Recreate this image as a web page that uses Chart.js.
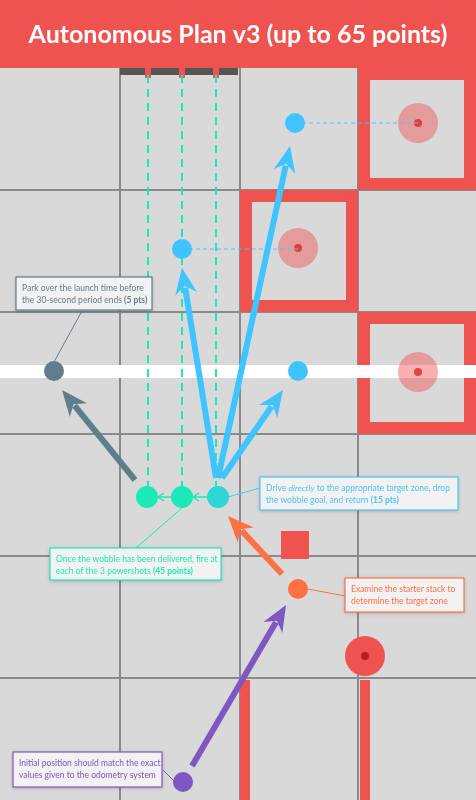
<!DOCTYPE html>
<html><head><meta charset="utf-8">
<script src="https://cdn.jsdelivr.net/npm/chart.js@4"></script>
<style>html,body{margin:0;padding:0;background:#d9d9d9;overflow:hidden}#wrap{width:476px;height:800px}</style>
</head><body><div id="wrap"><canvas id="c"></canvas></div>
<script>
const title = "Autonomous Plan v3 (up to 65 points)";
const gridX = [120, 240, 358];
const gridY = [190, 312, 434, 556, 678];
const zones = [[358,68,476,190],[240,190,358,312],[358,312,476,434]];
const zoneCircles = [[418,123],[298,248],[418,372]];
const powerLinesX = [148, 182, 216];
const bluePts = [{x:295,y:123},{x:182,y:249},{x:298,y:371}];
const greenPts = [{x:147,y:497},{x:182,y:497},{x:218,y:497}];
const parkPt = [{x:54,y:371}];
const stackPt = [{x:298,y:589}];
const startPt = [{x:183,y:782}];
const arrows = [
 {c:'#40c4ff',f:[218,478],t:[290,146]},
 {c:'#40c4ff',f:[216,478],t:[182,268]},
 {c:'#40c4ff',f:[222,478],t:[283,390]},
 {c:'#607d8b',f:[135,480],t:[62,390]},
 {c:'#ff7043',f:[282,574],t:[228,516]},
 {c:'#7e57c2',f:[192,766],t:[286,605]}
];
const callouts = [
 {box:[16,277,152,310],col:'#607d8b',line:[82,311,54,362],lines:[["Park over the launch time before",""],["the 30-second period ends ","(5 pts)"]]},
 {box:[260,477,458,510],col:'#4fc3f7',line:[260,488,228,497],lines:[["Drive directly to the appropriate target zone, drop",""],["the wobble goal, and return ","(15 pts)"]]},
 {box:[50,548,221,580],col:'#1de9b6',line:[136,548,182,508],lines:[["Once the wobble has been delivered, fire at",""],["each of the 3 powershots ","(45 points)"]]},
 {box:[345,578,464,612],col:'#ff7043',line:[345,596,308,589],lines:[["Examine the starter stack to",""],["determine the target zone",""]]},
 {box:[13,752,162,787],col:'#7e57c2',line:[163,770,175,782],lines:[["Initial position should match the exact",""],["values given to the odometry system",""]]}
];
const RED='#ef5350';
const FF='Lato, "Open Sans", sans-serif';
const field = {
 id:'field',
 beforeDatasetsDraw(ch){
  const c=ch.ctx, X=v=>ch.scales.x.getPixelForValue(v), Y=v=>ch.scales.y.getPixelForValue(v);
  c.save();
  c.fillStyle='#d9d9d9'; c.fillRect(X(0),Y(68),X(476)-X(0),Y(800)-Y(68));
  c.strokeStyle='#8a8a8a'; c.lineWidth=2;
  gridX.forEach(g=>{c.beginPath();c.moveTo(X(g),Y(68));c.lineTo(X(g),Y(800));c.stroke();});
  gridY.forEach(g=>{c.beginPath();c.moveTo(X(0),Y(g));c.lineTo(X(476),Y(g));c.stroke();});
  zones.forEach(z=>{c.fillStyle=RED;c.fillRect(X(z[0]),Y(z[1]),X(z[2])-X(z[0]),Y(z[3])-Y(z[1]));
    c.fillStyle='#d9d9d9';c.fillRect(X(z[0]+12),Y(z[1]+12),X(z[2]-12)-X(z[0]+12),Y(z[3]-12)-Y(z[1]+12));});
  c.fillStyle='#fff'; c.fillRect(X(0),Y(365),X(476)-X(0),Y(378)-Y(365));
  zoneCircles.forEach(p=>{c.fillStyle='rgba(239,83,80,0.45)';c.beginPath();c.arc(X(p[0]),Y(p[1]),20,0,7);c.fill();
   c.fillStyle='rgba(220,40,40,0.8)';c.beginPath();c.arc(X(p[0]),Y(p[1]),4,0,7);c.fill();});
  c.fillStyle='#555'; c.fillRect(X(120),Y(68),X(238)-X(120),7);
  c.fillStyle=RED; powerLinesX.forEach(x=>c.fillRect(X(x)-3,Y(68),6,10));
  c.fillRect(X(281),Y(531),X(309)-X(281),Y(559)-Y(531));
  c.fillRect(X(240),Y(680),10,Y(800)-Y(680)); c.fillRect(X(360),Y(680),10,Y(800)-Y(680));
  c.beginPath();c.arc(X(365),Y(656),20,0,7);c.fill();
  c.fillStyle='#b71c1c';c.beginPath();c.arc(X(365),Y(656),4,0,7);c.fill();
  c.strokeStyle='#1de9b6'; c.lineWidth=2; c.setLineDash([8,6]);
  powerLinesX.forEach(x=>{c.beginPath();c.moveTo(X(x),Y(75));c.lineTo(X(x),Y(490));c.stroke();});
  c.strokeStyle='#4fc3f7'; c.lineWidth=1; c.setLineDash([4,3]);
  [[295,123,418,123],[182,249,298,249]].forEach(l=>{c.beginPath();c.moveTo(X(l[0]),Y(l[1]));c.lineTo(X(l[2]),Y(l[3]));c.stroke();});
  c.setLineDash([]);
  c.strokeStyle='#1de9b6'; c.lineWidth=1.5;
  [[207,497,193],[172,497,158]].forEach(a=>{c.beginPath();c.moveTo(X(a[0]),Y(a[1]));c.lineTo(X(a[2]),Y(a[1]));
    c.moveTo(X(a[2])+6,Y(a[1])-4);c.lineTo(X(a[2]),Y(a[1]));c.lineTo(X(a[2])+6,Y(a[1])+4);c.stroke();});
  arrows.forEach(a=>{const x1=X(a.f[0]),y1=Y(a.f[1]),x2=X(a.t[0]),y2=Y(a.t[1]);
   const ang=Math.atan2(y2-y1,x2-x1), L=26, W=11;
   const bx=x2-L*Math.cos(ang), by=y2-L*Math.sin(ang);
   c.strokeStyle=a.c;c.lineWidth=6;c.beginPath();c.moveTo(x1,y1);c.lineTo(bx+6*Math.cos(ang),by+6*Math.sin(ang));c.stroke();
   c.fillStyle=a.c;c.beginPath();c.moveTo(x2,y2);
   c.lineTo(bx+W*Math.cos(ang+Math.PI/2),by+W*Math.sin(ang+Math.PI/2));
   c.lineTo(x2-L*0.7*Math.cos(ang),y2-L*0.7*Math.sin(ang));
   c.lineTo(bx-W*Math.cos(ang+Math.PI/2),by-W*Math.sin(ang+Math.PI/2));c.closePath();c.fill();});
  callouts.forEach(o=>{c.strokeStyle=o.col;c.lineWidth=1;c.beginPath();c.moveTo(X(o.line[0]),Y(o.line[1]));c.lineTo(X(o.line[2]),Y(o.line[3]));c.stroke();});
  c.restore();
 },
 afterDatasetsDraw(ch){
  const c=ch.ctx, X=v=>ch.scales.x.getPixelForValue(v), Y=v=>ch.scales.y.getPixelForValue(v);
  c.save();
  c.fillStyle=RED; c.fillRect(X(0),Y(0),X(476)-X(0),Y(68)-Y(0));
  c.fillStyle='#fff'; c.font='bold 25px '+FF; c.textAlign='center'; c.textBaseline='middle';
  c.fillText(title,X(238),Y(35));
  c.textAlign='left'; c.textBaseline='alphabetic';
  callouts.forEach(o=>{const b=o.box, w=X(b[2])-X(b[0]);
   c.shadowColor='rgba(0,0,0,0.25)';c.shadowBlur=4;c.shadowOffsetY=1;
   c.fillStyle='#f2f2f2';c.fillRect(X(b[0]),Y(b[1]),w,Y(b[3])-Y(b[1]));
   c.shadowColor='transparent';
   c.strokeStyle=o.col;c.lineWidth=1.2;c.strokeRect(X(b[0]),Y(b[1]),w,Y(b[3])-Y(b[1]));
   c.fillStyle=o.col;
   o.lines.forEach((ln,i)=>{let x=X(b[0]+6), y=Y(b[1]+14+i*12);
     let t=ln[0];
     if(t.includes('directly')){c.font='8.5px '+FF;c.fillText('Drive ',x,y);x+=c.measureText('Drive ').width;
       c.font='italic 8.5px '+FF;c.fillText('directly',x,y);x+=c.measureText('directly').width;
       t=t.replace('Drive directly','');}
     c.font='8.5px '+FF;c.fillText(t,x,y);x+=c.measureText(t).width;
     if(ln[1]){c.font='bold 8.5px '+FF;c.fillText(ln[1],x,y);}
   });
  });
  c.restore();
 }
};
new Chart(document.getElementById('c'),{
 type:'scatter',
 data:{datasets:[
  {data:bluePts,backgroundColor:'#40c4ff',pointRadius:10,borderWidth:0},
  {data:greenPts,backgroundColor:['#1de9b6','#1de9b6','#2fd6d6'],pointRadius:11,borderWidth:0},
  {data:parkPt,backgroundColor:'#607d8b',pointRadius:10,borderWidth:0},
  {data:stackPt,backgroundColor:'#ff7043',pointRadius:10,borderWidth:0},
  {data:startPt,backgroundColor:'#7e57c2',pointRadius:10,borderWidth:0}
 ]},
 options:{responsive:true,maintainAspectRatio:false,animation:false,layout:{padding:0,autoPadding:false},
  events:[],
  plugins:{legend:{display:false},tooltip:{enabled:false}},
  scales:{x:{type:'linear',min:0,max:476,display:false},y:{type:'linear',min:0,max:800,reverse:true,display:false}}},
 plugins:[field]
});
</script></body></html>
